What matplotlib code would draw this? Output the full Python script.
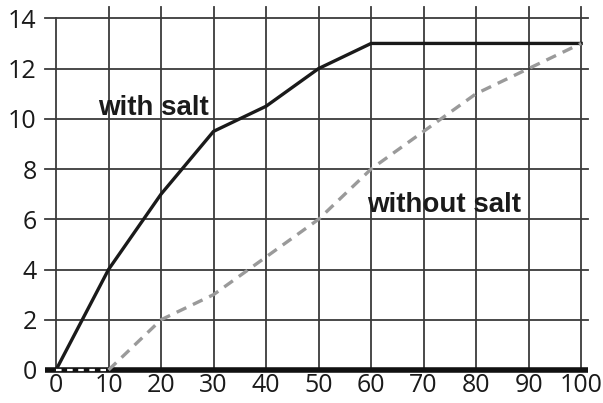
import matplotlib.pyplot as plt

# data
x_vals = [0, 10, 20, 30, 40, 50, 60, 70, 80, 90, 100]
with_salt = [0, 4, 7, 9.5, 10.5, 12, 13, 13, 13, 13, 13]
without_salt = [0, 0, 2, 3, 4.5, 6, 8, 9.5, 11, 12, 13]
y_ticks = [0, 2, 4, 6, 8, 10, 12, 14]

plt.rcParams['font.family'] = ['Open Sans', 'DejaVu Sans']

fig = plt.figure(figsize=(6.03, 4.03), dpi=100)
ax = fig.add_axes([0.0746, 0.0819, 0.9005, 0.9007])
xmin, xmax = -2.1, 101.3
ymin, ymax = 0, 14.45
ax.set_xlim(xmin, xmax)
ax.set_ylim(ymin, ymax)

# grid drawn by hand
grid_col = '#3a3a3a'
for xv in x_vals:
    top = 14 if xv == 0 else ymax
    ax.plot([xv, xv], [0, top], color=grid_col, lw=1.3, zorder=1, clip_on=False)
for yv in y_ticks[1:]:
    ax.plot([xmin, xmax], [yv, yv], color=grid_col, lw=1.3, zorder=1, clip_on=False)

# baseline
ax.plot([xmin, xmax], [0, 0], color='#111111', lw=4, zorder=3, clip_on=False,
        solid_capstyle='butt')

ax.plot(x_vals, with_salt, color='#1a1a1a', lw=2.4, zorder=4, clip_on=False)
ax.plot(x_vals[1:], without_salt[1:], color='#9a9a9a', lw=2.4, zorder=4,
        dashes=(3.2, 2.2), clip_on=False)
# flat part sits on the baseline
ax.plot(x_vals[:2], without_salt[:2], color='white', lw=1.6, zorder=5,
        dashes=(2.5, 2.5), clip_on=False)

lab_font = ['Liberation Sans', 'DejaVu Sans']
ax.text(8.0, 10.14, 'with salt', fontsize=20, fontweight='bold', family=lab_font,
        ha='left', va='baseline', color='#1a1a1a', zorder=6)
ax.text(59.2, 6.28, 'without salt', fontsize=20, fontweight='bold', family=lab_font,
        ha='left', va='baseline', color='#1a1a1a', zorder=6)

ax.set_xticks(x_vals)
ax.set_yticks(y_ticks)
ax.tick_params(length=0, labelsize=18, colors='#1a1a1a')
ax.tick_params(axis='y', pad=6)
ax.tick_params(axis='x', pad=2)
for s in ax.spines.values():
    s.set_visible(False)

fig.savefig('out.png', dpi=100)
